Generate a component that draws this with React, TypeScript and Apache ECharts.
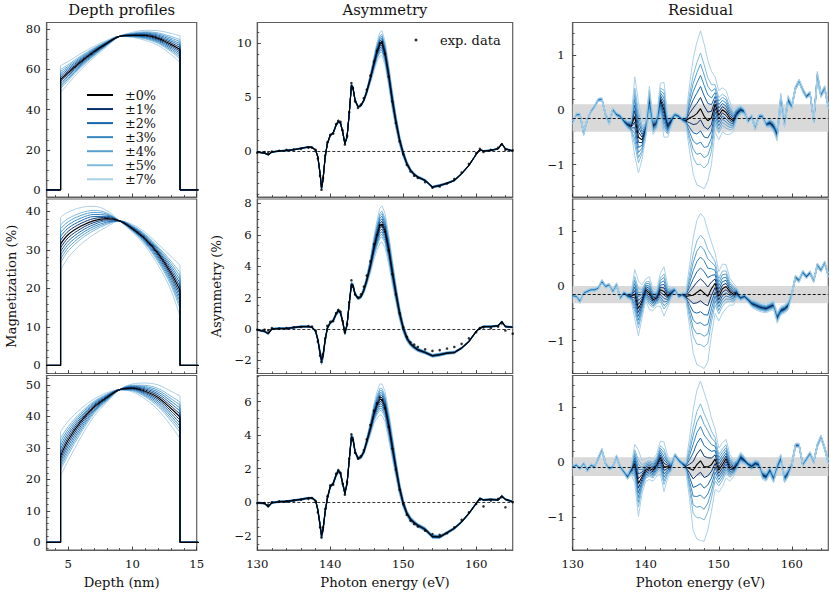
import React, { useEffect, useRef } from "react";
import * as echarts from "echarts";

// ---------------- data ----------------
const levels = [1, 2, 3, 4, 5, 7];
const levelColors = ["#08306b", "#1764ab", "#3585c0", "#57a0ce", "#80bade", "#abd0e8"];
const legendNames = ["±0%", "±1%", "±2%", "±3%", "±4%", "±5%", "±7%"];

// Depth profiles (nm, %)
const depthX = [4.4, 5, 6, 7, 8, 9, 10, 11, 12, 13, 13.7];
const depthBaseEnds = [3, 15.5];
const depthFit1 = [55, 58.5, 64, 68.8, 73, 76.5, 77, 77, 75.5, 72.5, 70];
const depthHiLeft1 = [62, 64, 68, 71.5, 74.5, 76.5, 76, 74.5, 72, 67.5, 63.5];
const depthLoLeft1 = [48.5, 53, 60, 66, 71.5, 76.5, 78.5, 79.5, 79.3, 78, 76.8];
const depthFit2 = [31.5, 34, 36.2, 37.6, 38.1, 37.5, 35.5, 32.8, 29, 24, 19.5];
const depthHiLeft2 = [38.5, 39.8, 41, 41.3, 40.2, 37.5, 34.6, 31, 26, 19.5, 12.6];
const depthLoLeft2 = [24.7, 28, 31.5, 34, 36, 37.5, 36.6, 34.5, 31.5, 28.3, 26];
const depthFit3 = [27.5, 32.5, 38.5, 43, 46, 48.5, 49, 48, 46, 42.5, 39.8];
const depthHiLeft3 = [35.2, 38.5, 42.5, 45.5, 47.5, 48.5, 47.8, 45.5, 42, 37, 33];
const depthLoLeft3 = [21.1, 26, 33.5, 40, 44.5, 48.5, 50.3, 50.6, 50, 48, 46.5];

// Asymmetry spectra (eV, %)
const energyFit = [130, 131, 131.5, 132, 133, 134, 135, 136, 137, 137.5,
  138, 138.3, 138.6, 138.8, 139, 139.3, 139.6, 140, 140.4, 140.8,
  141.1, 141.4, 141.7, 142, 142.3, 142.6, 142.9, 143.1, 143.4, 143.8,
  144.2, 144.6, 145, 145.5, 146, 146.4, 146.8, 147.1, 147.5, 148,
  148.5, 149, 149.5, 150, 150.5, 151, 151.5, 152, 153, 154,
  155, 156, 157, 158, 159, 160, 160.5, 161, 162, 163,
  163.5, 164, 165];
const asymFit1 = [-0.1, -0.2, -0.35, -0.1, 0, 0.05, 0.12, 0.25, 0.37, 0.34,
  0.06, -0.56, -2.1, -3.45, -2.7, -0.56, 0.68, 1.46, 1.68, 2.4,
  2.73, 2.6, 1.77, 0.68, 1.3, 3.48, 6.1, 5.9, 4.7, 4.1,
  4.2, 4.7, 5.5, 6.74, 8.14, 9.2, 9.9, 10.0, 9.07, 7.05,
  4.72, 2.7, 1.0, -0.25, -1.18, -1.8, -2.17, -2.42, -2.73, -3.35,
  -3.2, -3.0, -2.73, -2.11, -1.34, -0.31, 0.12, 0, 0.06, 0.2,
  0.68, 0.2, 0];
const asymData1 = [-0.15, -0.1, -0.2, -0.05, 0.02, 0.1, 0.15, 0.2, 0.3, 0.3,
  0.1, -0.7, -2.3, -3.6, -2.5, -0.4, 0.8, 1.5, 1.6, 2.5,
  2.8, 2.7, 1.9, 0.6, 1.4, 3.6, 6.3, 5.8, 4.6, 4.0,
  4.3, 4.9, 5.7, 7.0, 8.3, 9.3, 10.0, 10.1, 9.0, 6.9,
  4.6, 2.6, 0.9, -0.3, -1.3, -1.9, -2.3, -2.5, -2.9, -3.4,
  -3.3, -3.0, -2.6, -2.0, -1.2, -0.2, 0.2, -0.1, 0.1, 0.3,
  0.6, 0.1, 0.05];
const asymSpread1 = [0.05, 0.05, 0.05, 0.05, 0.05, 0.05, 0.05, 0.05, 0.05, 0.05,
  0.05, 0.1, 0.15, 0.2, 0.15, 0.1, 0.1, 0.1, 0.1, 0.12,
  0.15, 0.12, 0.1, 0.1, 0.1, 0.12, 0.15, 0.15, 0.12, 0.1,
  0.1, 0.15, 0.25, 0.45, 0.7, 0.9, 1.1, 1.15, 1.1, 1.0,
  0.9, 0.7, 0.5, 0.35, 0.25, 0.2, 0.15, 0.12, 0.1, 0.1,
  0.1, 0.08, 0.08, 0.06, 0.05, 0.05, 0.05, 0.05, 0.05, 0.05,
  0.05, 0.05, 0.05];
const asymFit2 = [-0.06, -0.16, -0.3, 0, 0.03, 0.03, 0.09, 0.15, 0.15, 0.11,
  -0.16, -0.7, -1.54, -2.0, -1.75, -0.7, 0.05, 0.4, 0.53, 0.95,
  1.16, 1.04, 0.47, -0.27, 0.26, 1.63, 2.85, 2.79, 2.22, 1.95,
  2.05, 2.47, 3.1, 4.05, 5.2, 5.95, 6.58, 6.69, 6.27, 5.11,
  3.63, 2.26, 1.0, 0.05, -0.59, -0.95, -1.16, -1.33, -1.5, -1.71,
  -1.64, -1.54, -1.5, -1.22, -0.8, -0.16, 0.05, 0.15, 0.15, 0.2,
  0.47, 0.15, 0.11];
const asymData2 = [-0.05, -0.05, -0.1, 0.05, 0.02, 0.05, 0.1, 0.12, 0.18, 0.15,
  -0.1, -0.8, -1.7, -2.1, -1.6, -0.6, 0.2, 0.45, 0.5, 1.0,
  1.2, 1.1, 0.5, -0.2, 0.3, 1.7, 3.1, 2.7, 2.2, 2.0,
  2.2, 2.7, 3.4, 4.3, 5.4, 6.0, 6.6, 6.6, 6.2, 5.0,
  3.5, 2.2, 1.0, 0.1, -0.5, -0.85, -1.0, -1.15, -1.3, -1.4,
  -1.35, -1.25, -1.15, -0.95, -0.6, -0.2, 0.05, 0.1, 0.05, 0.15,
  0.35, -0.1, -0.3];
const asymSpread2 = [0.05, 0.05, 0.05, 0.05, 0.05, 0.05, 0.05, 0.05, 0.05, 0.05,
  0.06, 0.12, 0.2, 0.3, 0.2, 0.12, 0.1, 0.1, 0.1, 0.12,
  0.15, 0.12, 0.1, 0.12, 0.1, 0.12, 0.15, 0.15, 0.12, 0.1,
  0.12, 0.2, 0.3, 0.5, 0.75, 0.95, 1.12, 1.15, 1.1, 0.95,
  0.8, 0.6, 0.45, 0.3, 0.22, 0.18, 0.15, 0.12, 0.1, 0.1,
  0.1, 0.08, 0.08, 0.06, 0.05, 0.05, 0.05, 0.05, 0.05, 0.05,
  0.05, 0.05, 0.05];
const asymFit3 = [-0.03, -0.07, -0.27, -0.03, 0.03, 0.05, 0.11, 0.17, 0.25, 0.25,
  0.09, -0.47, -1.36, -2.0, -1.66, -0.57, 0.23, 0.93, 1.12, 1.62,
  1.86, 1.72, 1.12, 0.53, 1.12, 2.52, 3.91, 3.81, 3.01, 2.62,
  2.68, 3.01, 3.61, 4.41, 5.3, 5.8, 6.14, 6.1, 5.71, 4.61,
  3.31, 2.02, 0.82, -0.07, -0.67, -1.02, -1.22, -1.38, -1.62, -2.05,
  -2.07, -1.82, -1.56, -1.17, -0.67, -0.07, 0.23, 0.13, 0.17, 0.13,
  0.37, 0.17, 0.03];
const asymData3 = [-0.05, -0.05, -0.15, 0.0, 0.05, 0.05, 0.1, 0.15, 0.2, 0.25,
  0.05, -0.6, -1.5, -2.1, -1.5, -0.4, 0.35, 1.0, 1.05, 1.7,
  1.9, 1.75, 1.1, 0.45, 1.2, 2.6, 4.05, 3.7, 2.95, 2.6,
  2.75, 3.1, 3.75, 4.6, 5.45, 5.9, 6.25, 6.1, 5.6, 4.5,
  3.2, 1.95, 0.75, -0.1, -0.75, -1.1, -1.3, -1.45, -1.7, -1.9,
  -1.95, -1.85, -1.5, -1.05, -0.6, -0.1, 0.15, -0.25, 0.1, 0.2,
  0.3, -0.3, 0.0];
const asymSpread3 = [0.05, 0.05, 0.05, 0.05, 0.05, 0.05, 0.05, 0.05, 0.05, 0.05,
  0.05, 0.1, 0.15, 0.2, 0.15, 0.1, 0.1, 0.1, 0.1, 0.12,
  0.15, 0.12, 0.1, 0.1, 0.1, 0.12, 0.15, 0.15, 0.12, 0.1,
  0.1, 0.15, 0.25, 0.4, 0.6, 0.78, 0.92, 0.95, 0.9, 0.85,
  0.72, 0.55, 0.4, 0.28, 0.2, 0.18, 0.15, 0.12, 0.12, 0.12,
  0.1, 0.08, 0.08, 0.06, 0.05, 0.05, 0.05, 0.05, 0.05, 0.05,
  0.05, 0.05, 0.05];

// Residuals (eV, %)
const energyRes = [130, 130.5, 131, 131.5, 132, 132.5, 133, 133.5, 134, 134.5,
  135, 135.5, 136, 136.5, 137, 137.5, 138, 138.5, 139, 139.5,
  140, 140.5, 141, 141.5, 142, 142.5, 143, 143.5, 144, 144.5,
  145, 145.5, 146, 146.5, 147, 147.5, 148, 148.5, 149, 149.5,
  150, 150.5, 151, 151.5, 152, 152.5, 153, 153.5, 154, 154.5,
  155, 155.5, 156, 156.5, 157, 157.5, 158, 158.5, 159, 159.5,
  160, 160.5, 161, 161.5, 162, 162.5, 163, 163.5, 164, 164.5,
  165];
const resBase1 = [-0.23, -0.09, -0.09, -0.42, -0.18, -0.03, 0.06, 0.18, 0.19, -0.09,
  -0.24, 0, -0.09, -0.12, -0.21, -0.27, -0.3, -0.12, -0.5, -0.55,
  -0.36, 0.18, -0.3, -0.24, 0.18, 0, -0.3, -0.21, -0.09, -0.12,
  -0.18, -0.2, -0.15, -0.12, -0.07, 0.02, -0.12, -0.2, -0.15, 0.1,
  -0.1, 0, -0.05, -0.15, -0.2, -0.06, 0, -0.03, -0.21, -0.12,
  -0.33, -0.12, -0.12, -0.27, -0.24, -0.3, -0.45, 0.18, -0.24, 0.18,
  0.06, 0.39, 0.52, 0.36, 0.24, 0.3, -0.2, 0.6, 0.27, 0.39,
  0.06];
const resSpread1 = [0.03, 0.03, 0.03, 0.05, 0.03, 0.03, 0.03, 0.03, 0.03, 0.04,
  0.04, 0.04, 0.04, 0.04, 0.05, 0.08, 0.12, 0.72, 0.65, 0.35,
  0.15, 0.25, 0.15, 0.12, 0.3, 0.5, 0.2, 0.1, 0.04, 0.04,
  0.04, 0.08, 0.6, 1.05, 1.3, 1.42, 1.32, 1.1, 0.85, 0.5,
  0.45, 0.4, 0.4, 0.3, 0.2, 0.12, 0.08, 0.05, 0.04, 0.04,
  0.05, 0.04, 0.04, 0.05, 0.08, 0.1, 0.12, 0.12, 0.08, 0.08,
  0.05, 0.04, 0.04, 0.04, 0.04, 0.04, 0.05, 0.1, 0.05, 0.05,
  0.04];
const resBase2 = [-0.18, -0.19, -0.28, -0.13, -0.1, -0.07, -0.07, -0.04, 0.08, -0.01,
  0.02, -0.1, 0.02, -0.22, -0.13, -0.18, -0.19, -0.15, -0.41, -0.28,
  -0.07, -0.13, -0.25, -0.22, -0.07, -0.1, -0.19, -0.13, -0.07, -0.19,
  -0.16, -0.19, -0.18, -0.17, -0.12, -0.07, -0.13, -0.19, -0.05, 0.05,
  -0.19, -0.05, -0.01, -0.1, -0.15, -0.13, -0.22, -0.19, -0.25, -0.32,
  -0.35, -0.38, -0.4, -0.41, -0.38, -0.35, -0.58, -0.45, -0.42, -0.36,
  -0.15, 0.16, 0.1, 0.25, 0.17, 0.24, 0.1, 0.38, 0.29, 0.42,
  0.2];
const resSpread2 = [0.03, 0.03, 0.04, 0.03, 0.03, 0.03, 0.03, 0.03, 0.04, 0.03,
  0.03, 0.04, 0.04, 0.04, 0.04, 0.05, 0.08, 0.45, 0.5, 0.3,
  0.2, 0.3, 0.2, 0.15, 0.3, 0.45, 0.2, 0.1, 0.04, 0.04,
  0.04, 0.08, 0.55, 1.05, 1.32, 1.4, 1.38, 1.2, 0.85, 0.55,
  0.45, 0.45, 0.4, 0.25, 0.2, 0.1, 0.05, 0.05, 0.05, 0.07,
  0.08, 0.08, 0.08, 0.08, 0.08, 0.08, 0.1, 0.08, 0.08, 0.08,
  0.05, 0.04, 0.04, 0.04, 0.04, 0.04, 0.04, 0.04, 0.04, 0.04,
  0.04];
const resBase3 = [-0.09, -0.06, -0.12, -0.03, -0.15, -0.06, -0.09, 0.06, 0.21, -0.03,
  -0.12, -0.09, 0.09, -0.09, -0.18, -0.27, -0.15, -0.03, -0.39, -0.27,
  -0.15, -0.12, -0.15, -0.06, 0.08, -0.09, -0.09, -0.09, 0.12, 0.03,
  -0.03, -0.09, -0.12, -0.15, -0.05, 0.02, -0.09, -0.09, -0.05, 0.05,
  -0.15, -0.05, 0.06, -0.1, -0.12, -0.05, 0.08, 0.03, -0.04, -0.08,
  -0.03, -0.05, -0.24, -0.27, -0.15, -0.3, -0.09, 0.06, -0.3, -0.2,
  -0.05, 0.3, 0.3, -0.05, 0.05, 0.15, 0.0, 0.3, 0.45, 0.25,
  0.0];
const resSpread3 = [0.03, 0.03, 0.03, 0.03, 0.04, 0.03, 0.03, 0.04, 0.04, 0.03,
  0.03, 0.03, 0.04, 0.04, 0.04, 0.05, 0.08, 0.35, 0.6, 0.3,
  0.2, 0.2, 0.2, 0.2, 0.3, 0.45, 0.2, 0.1, 0.04, 0.04,
  0.04, 0.08, 0.55, 1.1, 1.35, 1.45, 1.35, 1.15, 0.85, 0.55,
  0.4, 0.4, 0.35, 0.25, 0.15, 0.1, 0.1, 0.07, 0.05, 0.07,
  0.07, 0.07, 0.08, 0.08, 0.08, 0.08, 0.08, 0.08, 0.08, 0.08,
  0.05, 0.04, 0.04, 0.04, 0.04, 0.04, 0.04, 0.04, 0.04, 0.04,
  0.04];
const bandMean = [-0.15, -0.157, -0.085];
const bandHalf = [0.25, 0.158, 0.17];

// Tick labels
const depthTicks = [5, 10, 15];
const energyTicks = [130, 140, 150, 160];
const magTicks = [[0, 20, 40, 60, 80], [0, 10, 20, 30, 40], [0, 10, 20, 30, 40, 50]];
const asymTicks = [[0, 5, 10], [-2, 0, 2, 4, 6, 8], [-2, 0, 2, 4, 6]];
const resTicks = [-1, 0, 1];

// ---------------- layout / style ----------------
const FONT = "'DejaVu Serif', serif";
const TXT = "#111";
const FRAME = "#5e5e5e";
const COLS = [{ left: 46.7, width: 150 }, { left: 257.3, width: 255.4 }, { left: 572.7, width: 255.6 }];
const ROWS = [{ top: 22.5, height: 174.5 }, { top: 199, height: 174.5 }, { top: 375.5, height: 174.5 }];
const X_RANGES = [[3.32, 15], [130, 165], [130, 165]];
const Y_RANGES = [
  [[-3.5, 83.4], [-4.27, 11.92], [-1.59, 1.59]],
  [[-2.1, 43.2], [-2.84, 8.28], [-1.6, 1.59]],
  [[-2.45, 53], [-2.85, 7.56], [-1.6, 1.57]],
];
const MINOR_X = [1, 2, 2];
const MINOR_Y = [[5, 1, 0.2], [2, 0.5, 0.2], [2, 0.5, 0.2]];
const Y_LABEL_MARGIN = [6, 5.5, 8];

const fmt = (v: number) => (v < 0 ? "\u2212" + Math.abs(v) : String(v));

function minorList(min: number, max: number, step: number, majors: number[]) {
  const out: number[] = [];
  const start = Math.ceil(min / step - 1e-9) * step;
  for (let v = start; v <= max + 1e-9; v += step) {
    const r = Math.round(v * 1000) / 1000;
    if (!majors.some((m) => Math.abs(m - r) < 1e-6)) out.push(r);
  }
  return out;
}

function makeAxes(dim: "x" | "y", g: number, range: number[], majors: number[], step: number,
  showLabels: boolean, margin: number, name?: string, nameGap?: number) {
  const inRange = majors.filter((m) => m >= range[0] && m <= range[1]);
  const main: any = {
    type: "value", gridIndex: g, min: range[0], max: range[1],
    position: dim === "x" ? "bottom" : "left",
    axisLine: { show: true, onZero: false, lineStyle: { color: FRAME, width: 1.2 } },
    axisTick: { show: true, inside: true, length: 3.5, customValues: inRange, lineStyle: { color: "#333", width: 0.9 } },
    axisLabel: { show: showLabels, customValues: inRange, margin, fontFamily: FONT, fontSize: 11.7, color: TXT, lineHeight: 12, formatter: fmt },
    splitLine: { show: false }, minorTick: { show: false }, minorSplitLine: { show: false },
    nameMoveOverlap: false,
  };
  if (name) {
    main.name = name;
    main.nameLocation = "middle";
    main.nameGap = nameGap;
    main.nameTextStyle = { fontFamily: FONT, fontSize: 13.2, color: TXT, lineHeight: 13.2 };
  }
  const minor: any = {
    type: "value", gridIndex: g, min: range[0], max: range[1],
    position: dim === "x" ? "bottom" : "left",
    axisLine: { show: false, onZero: false },
    axisTick: { show: true, inside: true, length: 2, customValues: minorList(range[0], range[1], step, majors), lineStyle: { color: "#333", width: 0.8 } },
    axisLabel: { show: false }, splitLine: { show: false },
  };
  return [main, minor];
}

function lineSeries(g: number, name: string, color: string, width: number, data: any[], extra: any = {}) {
  return {
    type: "line", name, xAxisIndex: 2 * g, yAxisIndex: 2 * g, data,
    symbol: "none", showSymbol: false, silent: true, animation: false,
    lineStyle: { color, width }, itemStyle: { color }, emphasis: { disabled: true },
    ...extra,
  };
}

function buildOption() {
  const grids: any[] = [];
  const xAxes: any[] = [];
  const yAxes: any[] = [];
  for (let r = 0; r < 3; r++) {
    for (let c = 0; c < 3; c++) {
      const g = r * 3 + c;
      grids.push({
        left: COLS[c].left, top: ROWS[r].top, width: COLS[c].width, height: ROWS[r].height,
        show: true, borderColor: FRAME, borderWidth: 1.2, backgroundColor: "transparent",
        containLabel: false, outerBoundsMode: "none",
      });
      const xMaj = c === 0 ? depthTicks : energyTicks;
      const xName = r === 2 ? (c === 0 ? "Depth (nm)" : "Photon energy (eV)") : undefined;
      xAxes.push(...makeAxes("x", g, X_RANGES[c], xMaj, MINOR_X[c], r === 2, 8, xName, 25.5));
      const yMaj = c === 0 ? magTicks[r] : c === 1 ? asymTicks[r] : resTicks;
      let yName: string | undefined;
      let yGap = 0;
      if (r === 1 && c === 0) { yName = "Magnetization (%)"; yGap = 29; }
      if (r === 1 && c === 1) { yName = "Asymmetry (%)"; yGap = 34.5; }
      yAxes.push(...makeAxes("y", g, Y_RANGES[r][c], yMaj, MINOR_Y[r][c], true, Y_LABEL_MARGIN[c], yName, yGap));
    }
  }

  const series: any[] = [];

  // Depth profiles
  const depthRows = [
    { fit: depthFit1, hi: depthHiLeft1, lo: depthLoLeft1 },
    { fit: depthFit2, hi: depthHiLeft2, lo: depthLoLeft2 },
    { fit: depthFit3, hi: depthHiLeft3, lo: depthLoLeft3 },
  ];
  const last = depthX.length - 1;
  const edgeData = (vals: number[]) => [
    [depthBaseEnds[0], 0], [depthX[0], 0], [depthX[0], vals[0]], [depthX[0], "-"],
    [depthX[last], vals[last]], [depthX[last], 0], [depthBaseEnds[1], 0],
  ];
  depthRows.forEach((row, r) => {
    const g = r * 3;
    for (let li = levels.length - 1; li >= 0; li--) {
      const f = levels[li] / 7;
      [row.hi, row.lo].forEach((env, s) => {
        const vals = row.fit.map((v, i) => v + f * (env[i] - v));
        const name = r === 0 ? legendNames[li + 1] : `depth${r}_${levels[li]}_${s}`;
        series.push(lineSeries(g, name, levelColors[li], 1, depthX.map((x, i) => [x, vals[i]]), { smooth: 0.35 }));
        series.push(lineSeries(g, `edge${r}_${li}_${s}`, levelColors[li], 1, edgeData(vals)));
      });
    }
    series.push(lineSeries(g, r === 0 ? legendNames[0] : `depth${r}_0`, "#000", 1.2, depthX.map((x, i) => [x, row.fit[i]]), { smooth: 0.35 }));
    series.push(lineSeries(g, `edge${r}_0`, "#000", 1.2, edgeData(row.fit)));
  });

  // Asymmetry
  const asymRows = [
    { fit: asymFit1, data: asymData1, spread: asymSpread1 },
    { fit: asymFit2, data: asymData2, spread: asymSpread2 },
    { fit: asymFit3, data: asymData3, spread: asymSpread3 },
  ];
  asymRows.forEach((row, r) => {
    const g = r * 3 + 1;
    for (let li = levels.length - 1; li >= 0; li--) {
      const f = levels[li] / 7;
      [1, -1].forEach((sgn) => {
        series.push(lineSeries(g, `asym${r}_${levels[li]}_${sgn}`, levelColors[li], 1,
          energyFit.map((e, i) => [e, row.fit[i] + sgn * f * row.spread[i]])));
      });
    }
    series.push(lineSeries(g, `asym${r}_0`, "#000", 1.1, energyFit.map((e, i) => [e, row.fit[i]]), {
      markLine: {
        silent: true, symbol: "none", animation: false, label: { show: false },
        lineStyle: { color: "#000", type: [3, 2], width: 0.8 },
        data: [{ yAxis: 0 }],
      },
    }));
    series.push({
      type: "scatter", name: r === 0 ? "exp. data" : `exp${r}`, xAxisIndex: 2 * g, yAxisIndex: 2 * g,
      symbol: "circle", symbolSize: 2.6, itemStyle: { color: "#000" }, silent: true, animation: false,
      data: energyFit.map((e, i) => [e, row.data[i]]), z: 4,
    });
  });

  // Residuals: black underneath, then levels from dark to light (light on top)
  const resRows = [
    { base: resBase1, spread: resSpread1 },
    { base: resBase2, spread: resSpread2 },
    { base: resBase3, spread: resSpread3 },
  ];
  resRows.forEach((row, r) => {
    const g = r * 3 + 2;
    series.push(lineSeries(g, `res${r}_0`, "#000", 1.1, energyRes.map((e, i) => [e, row.base[i]]), {
      markArea: {
        silent: true, animation: false, itemStyle: { color: "#d9d9d9" }, label: { show: false },
        data: [[{ yAxis: bandMean[r] + bandHalf[r] }, { yAxis: bandMean[r] - bandHalf[r] }]],
      },
      markLine: {
        silent: true, symbol: "none", animation: false, label: { show: false },
        lineStyle: { color: "#000", type: [3, 2], width: 0.9 },
        data: [{ yAxis: bandMean[r] }],
      },
    }));
    for (let li = 0; li < levels.length; li++) {
      const f = levels[li] / 7;
      [1, -1].forEach((sgn) => {
        series.push(lineSeries(g, `res${r}_${levels[li]}_${sgn}`, levelColors[li], 1,
          energyRes.map((e, i) => [e, row.base[i] + sgn * f * row.spread[i]])));
      });
    }
  });

  const titleStyle = { fontFamily: FONT, fontSize: 14.8, fontWeight: "normal", color: TXT, lineHeight: 15 };
  return {
    animation: false,
    backgroundColor: "#fff",
    title: [
      { text: "Depth profiles", left: 121.7, top: 1.6, textAlign: "center", padding: 0, textStyle: titleStyle },
      { text: "Asymmetry", left: 385, top: 1.6, textAlign: "center", padding: 0, textStyle: titleStyle },
      { text: "Residual", left: 700.5, top: 1.6, textAlign: "center", padding: 0, textStyle: titleStyle },
    ],
    legend: [
      {
        data: legendNames, orient: "vertical", left: 87, top: 88, padding: 0, icon: "rect",
        itemWidth: 26, itemHeight: 2, itemGap: 0.05, selectedMode: false,
        textStyle: { fontFamily: FONT, fontSize: 12.8, color: TXT, lineHeight: 14, padding: [0, 0, 0, 7] },
      },
      {
        data: ["exp. data"], left: 414.5, top: 33, padding: 0, icon: "circle",
        itemWidth: 3, itemHeight: 3, selectedMode: false,
        textStyle: { fontFamily: FONT, fontSize: 13, color: TXT, lineHeight: 14, padding: [0, 0, 0, 17.5] },
      },
    ],
    grid: grids,
    xAxis: xAxes,
    yAxis: yAxes,
    series,
  };
}

export default function App() {
  const ref = useRef<HTMLDivElement>(null);
  useEffect(() => {
    if (!ref.current) return;
    const chart = echarts.init(ref.current, null, { renderer: "svg" });
    chart.setOption(buildOption() as any);
    return () => chart.dispose();
  }, []);
  return (
    <div
      ref={ref}
      style={{ position: "absolute", left: 0, top: 0, width: 830, height: 593, background: "#fff" }}
    />
  );
}
